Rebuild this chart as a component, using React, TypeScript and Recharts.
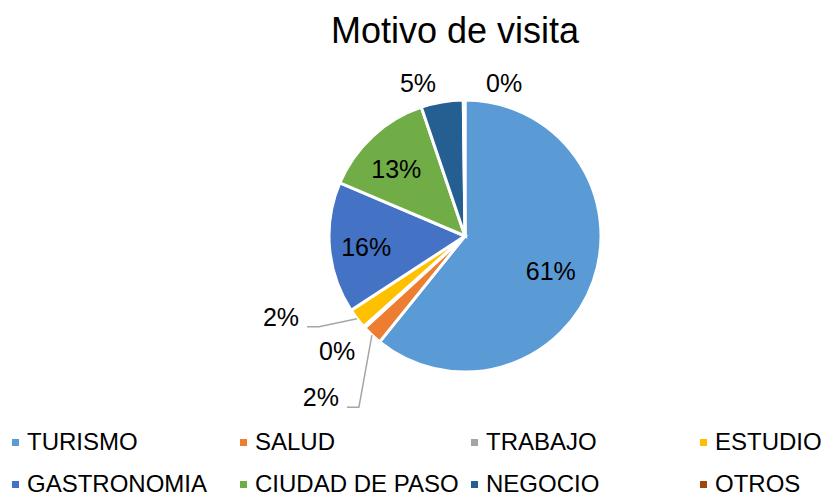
import { PieChart, Pie, Cell, Legend } from "recharts";

const CATEGORIES = [
  "TURISMO",
  "SALUD",
  "TRABAJO",
  "ESTUDIO",
  "GASTRONOMIA",
  "CIUDAD DE PASO",
  "NEGOCIO",
  "OTROS",
];
const VALUES = [60.8, 2.4, 0.2, 2.4, 15.6, 13.4, 5.0, 0.2];
const COLORS = ["#5b9bd5", "#ed7d31", "#a5a5a5", "#ffc000", "#4472c4", "#70ad47", "#255e91", "#9e480e"];

// how each data label sits: inside, outside (nudged from the rim) or outside with a leader line
const LABEL_STYLE: { kind: string; dx?: number; dy?: number }[] = [
  { kind: "in" },
  { kind: "leader", dx: -33, dy: 71 },
  { kind: "out", dx: -27, dy: 24 },
  { kind: "leader", dx: -58, dy: 7 },
  { kind: "in" },
  { kind: "in" },
  { kind: "out", dx: -24, dy: -19 },
  { kind: "out", dx: 40, dy: -17 },
];

const FONT = '"Liberation Sans", Arial, sans-serif';
const RAD = Math.PI / 180;

const data = CATEGORIES.map((name, i) => ({ name, value: VALUES[i] }));

function renderLabel(props: any) {
  const { cx, cy, midAngle, outerRadius, percent, index } = props;
  const text = `${Math.round(percent * 100)}%`;
  const cos = Math.cos(-midAngle * RAD);
  const sin = Math.sin(-midAngle * RAD);
  const spec = LABEL_STYLE[index];
  if (spec.kind === "in") {
    const r = outerRadius * 0.7;
    return (
      <text
        x={cx + r * cos - 4}
        y={cy + r * sin + 3}
        textAnchor="middle"
        dominantBaseline="central"
        fontFamily={FONT}
        fontSize={25}
        fill="#000"
      >
        {text}
      </text>
    );
  }
  const ex = cx + outerRadius * cos;
  const ey = cy + outerRadius * sin;
  if (spec.kind === "out") {
    return (
      <text
        x={ex + (spec.dx ?? 0)}
        y={ey + (spec.dy ?? 0)}
        textAnchor="middle"
        dominantBaseline="central"
        fontFamily={FONT}
        fontSize={25}
        fill="#000"
      >
        {text}
      </text>
    );
  }
  const tx = ex + (spec.dx ?? 0);
  const ty = ey + (spec.dy ?? 0);
  return (
    <g>
      <polyline
        points={`${tx + 8},${ty + 1} ${tx + 20},${ty + 1} ${ex},${ey}`}
        fill="none"
        stroke="#a6a6a6"
        strokeWidth={1.5}
      />
      <text x={tx} y={ty} textAnchor="end" fontFamily={FONT} fontSize={25} fill="#000">
        {text}
      </text>
    </g>
  );
}

function LegendBox() {
  return (
    <div
      style={{
        display: "grid",
        gridTemplateColumns: "228px 231px 229px 120px",
        width: 822,
        paddingLeft: 12,
        boxSizing: "border-box",
      }}
    >
      {CATEGORIES.map((c, i) => (
        <div
          key={c}
          style={{
            height: 42,
            display: "flex",
            alignItems: "center",
            fontFamily: FONT,
            fontSize: 24,
            color: "#000",
            whiteSpace: "nowrap",
          }}
        >
          <span style={{ width: 7, height: 7, background: COLORS[i], marginRight: 8, flex: "none" }} />
          <span>{c}</span>
        </div>
      ))}
    </div>
  );
}

export default function App() {
  return (
    <div style={{ position: "absolute", left: 0, top: 0, width: 822, height: 496, background: "#fff" }}>
      <div
        style={{
          position: "absolute",
          left: 0,
          top: 13,
          width: 910,
          textAlign: "center",
          fontFamily: FONT,
          fontSize: 36,
          lineHeight: "36px",
          color: "#000",
        }}
      >
        Motivo de visita
      </div>
      <PieChart width={822} height={496}>
        <Pie
          data={data}
          dataKey="value"
          nameKey="name"
          cx={460}
          cy={231}
          outerRadius={136}
          startAngle={90}
          endAngle={-270}
          stroke="#fff"
          strokeWidth={3}
          label={renderLabel}
          labelLine={false}
          isAnimationActive={false}
        >
          {data.map((d, i) => (
            <Cell key={d.name} fill={COLORS[i]} />
          ))}
        </Pie>
        <Legend content={() => <LegendBox />} wrapperStyle={{ left: 0, top: 421, width: 822 }} />
      </PieChart>
    </div>
  );
}
